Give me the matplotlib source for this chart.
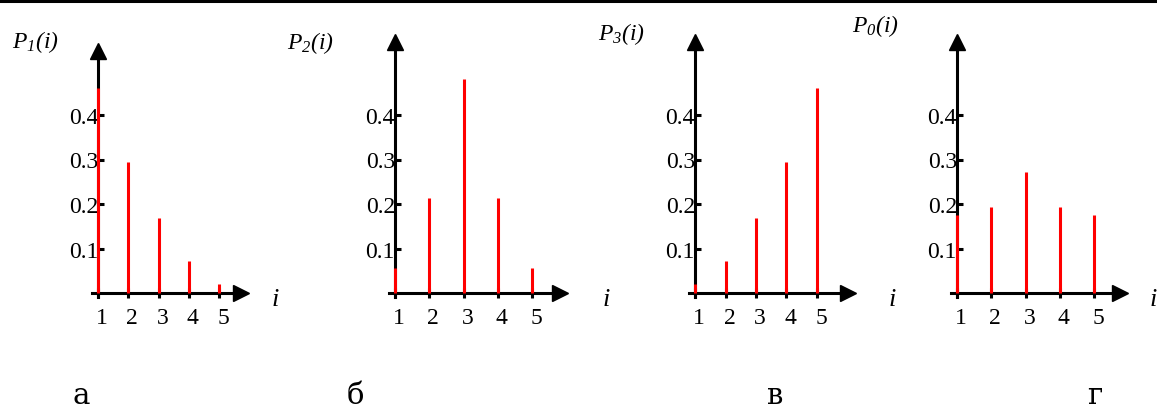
import matplotlib
matplotlib.use('Agg')
import matplotlib.pyplot as plt
from matplotlib.lines import Line2D
from matplotlib.transforms import ScaledTranslation

plt.rcParams['font.family'] = ['Liberation Serif', 'DejaVu Serif']
plt.rcParams['mathtext.fontset'] = 'custom'
plt.rcParams['mathtext.rm'] = 'Liberation Serif:italic'
plt.rcParams['mathtext.it'] = 'Liberation Serif:italic'

# данные
i_vals = [1, 2, 3, 4, 5]
p1 = [0.46, 0.295, 0.168, 0.072, 0.02]
p2 = [0.056, 0.213, 0.48, 0.213, 0.056]
p3 = [0.02, 0.072, 0.168, 0.295, 0.46]
p0 = [0.175, 0.193, 0.272, 0.193, 0.175]
y_ticks = [0.1, 0.2, 0.3, 0.4]
y_names = [r'$P_1(i)$', r'$P_2(i)$', r'$P_3(i)$', r'$P_0(i)$']
letters = ['а', 'б', 'в', 'г']
series = [p1, p2, p3, p0]

W, H = 1157, 410
fig = plt.figure(figsize=(W / 100, H / 100), dpi=100)

# раскладка в пикселях
x0px = [98, 395, 695, 957]
dxpx = [30.25, 34.25, 30.5, 34.25]
xtip = [248, 567, 855, 1127]
ytip = [44, 35, 35, 35]
y0px, dypx = 294, 445
name_pos = [(12, 42), (287, 43), (598, 34), (852, 26)]
i_pos = [(272, 300), (603, 300), (889, 300), (1150, 300)]
let_pos = [81, 355, 775, 1095]

xl, xr = 0.5, 6.2
yb, yt = -0.08, 0.6

for k in range(4):
    left = x0px[k] + (xl - 1) * dxpx[k]
    wpx = (xr - xl) * dxpx[k]
    top = y0px - yt * dypx
    bot = y0px - yb * dypx
    ax = fig.add_axes([left / W, 1 - bot / H, wpx / W, (bot - top) / H])
    ax.set_xlim(xl, xr)
    ax.set_ylim(yb, yt)
    ax.patch.set_visible(False)

    ax.vlines(i_vals, 0, series[k], colors='red', lw=2.2, zorder=3)

    xt = 1 + (xtip[k] - x0px[k]) / dxpx[k]
    ytd = (y0px - ytip[k]) / dypx
    hx = 14 / dxpx[k]
    hy = 15 / dypx
    for s in ['top', 'right']:
        ax.spines[s].set_visible(False)
    ax.spines['left'].set_position(('data', 1))
    ax.spines['bottom'].set_position(('data', 0))
    ax.spines['left'].set_bounds(-0.01, ytd - hy * 0.5)
    ax.spines['bottom'].set_bounds(1 - 6 / dxpx[k], xt - hx * 0.5)
    for s in ['left', 'bottom']:
        ax.spines[s].set_linewidth(2.2)
    ax.plot([1], [ytd - hy / 2], marker='^', color='k', ms=11, clip_on=False)
    ax.plot([xt - hx / 2], [0], marker='>', color='k', ms=11, clip_on=False)

    ax.set_xticks(i_vals)
    ax.set_yticks(y_ticks)
    ax.set_yticklabels(['0.1', '0.2', '0.3', '0.4'])
    ax.tick_params(axis='y', direction='in', length=4.5, width=2.2, pad=0, labelsize=17)
    ax.tick_params(axis='x', direction='inout', length=7, width=2.2, pad=6.5, labelsize=17)
    shift = ScaledTranslation(4 / 100, 0, fig.dpi_scale_trans)
    for lab in ax.get_xticklabels():
        lab.set_transform(lab.get_transform() + shift)

    fig.text(name_pos[k][0] / W, 1 - name_pos[k][1] / H, y_names[k],
             fontsize=17, ha='left', va='center')
    fig.text(i_pos[k][0] / W, 1 - i_pos[k][1] / H, 'i', fontsize=19,
             fontstyle='italic', ha='left', va='center')
    fig.text(let_pos[k] / W, 1 - 404 / H, letters[k], fontsize=21,
             family='DejaVu Serif', ha='center', va='baseline')

fig.add_artist(Line2D([0, 1], [1 - 1.5 / H] * 2, lw=2.2, color='k',
                      transform=fig.transFigure))

fig.savefig('out.png', dpi=100)
